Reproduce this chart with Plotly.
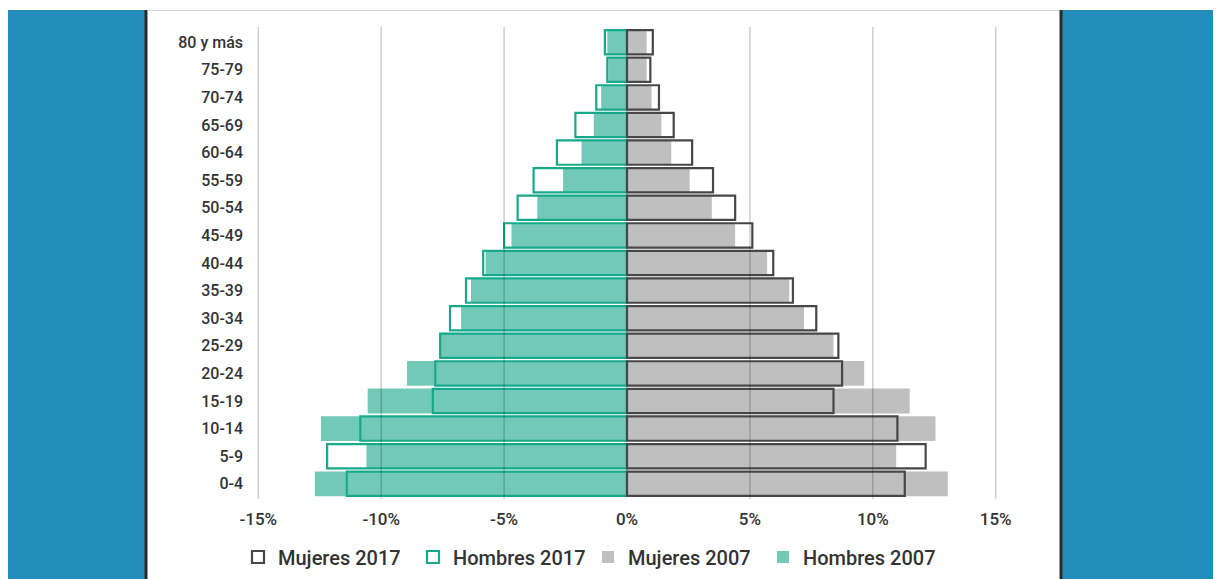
import plotly.graph_objects as go

# ---------------- data ----------------
age_groups = ["0-4", "5-9", "10-14", "15-19", "20-24", "25-29", "30-34", "35-39",
              "40-44", "45-49", "50-54", "55-59", "60-64", "65-69", "70-74", "75-79",
              "80 y más"]
hombres_2017 = [11.4, 12.2, 10.85, 7.9, 7.8, 7.6, 7.2, 6.55, 5.85, 5.0, 4.45, 3.8, 2.85, 2.1, 1.25, 0.8, 0.9]
hombres_2007 = [12.7, 10.6, 12.45, 10.55, 8.95, 7.65, 6.75, 6.35, 5.75, 4.7, 3.65, 2.6, 1.85, 1.35, 1.05, 0.75, 0.8]
mujeres_2017 = [11.3, 12.15, 11.0, 8.4, 8.75, 8.6, 7.7, 6.75, 5.95, 5.1, 4.4, 3.5, 2.65, 1.9, 1.3, 0.95, 1.05]
mujeres_2007 = [13.05, 10.95, 12.55, 11.5, 9.65, 8.4, 7.2, 6.6, 5.7, 4.4, 3.45, 2.55, 1.8, 1.4, 1.0, 0.8, 0.8]
tick_values = [-15, -10, -5, 0, 5, 10, 15]
tick_labels = ["-15%", "-10%", "-5%", "0%", "5%", "10%", "15%"]

# ---------------- layout geometry (page pixels; page body adds 8px offset) ----------------
OFF = 8
W, H = 1221 - OFF, 579 - OFF
PLOT_L, PLOT_R, PLOT_T, PLOT_B = 246, 1008, 27, 499   # page pixel coords
ML, MR = PLOT_L - OFF, W - (PLOT_R - OFF)
MT, MB = PLOT_T - OFF, H - (PLOT_B - OFF)
PW, PH = W - ML - MR, H - MT - MB

def px_x(p):
    return (p - OFF - ML) / PW

def px_y(p):
    return 1 - (p - OFF - MT) / PH

TEAL_FILL = "#73c9b7"
TEAL_LINE = "#17a98c"
GRAY_FILL = "#bfbfbf"
DARK_LINE = "#474747"
BLUE = "#228dbb"
FONT = "Roboto"
TXT = "#333333"

neg = lambda v: [-x for x in v]

fig = go.Figure()
fig.add_trace(go.Bar(y=age_groups, x=neg(hombres_2007), orientation="h", name="Hombres 2007",
                     marker=dict(color=TEAL_FILL, line=dict(width=0)), width=0.9, legendrank=4))
fig.add_trace(go.Bar(y=age_groups, x=mujeres_2007, orientation="h", name="Mujeres 2007",
                     marker=dict(color=GRAY_FILL, line=dict(width=0)), width=0.9, legendrank=3))
fig.add_trace(go.Bar(y=age_groups, x=neg(hombres_2017), orientation="h", name="Hombres 2017",
                     marker=dict(color="rgba(255,255,255,0)", line=dict(color=TEAL_LINE, width=2.2)),
                     width=0.88, legendrank=2))
fig.add_trace(go.Bar(y=age_groups, x=mujeres_2017, orientation="h", name="Mujeres 2017",
                     marker=dict(color="rgba(255,255,255,0)", line=dict(color=DARK_LINE, width=2.2)),
                     width=0.88, legendrank=1))

shapes = []
shapes.append(dict(type="rect", xref="paper", yref="paper", layer="below",
                   x0=px_x(8), x1=px_x(145), y0=px_y(10), y1=px_y(590),
                   fillcolor=BLUE, line=dict(width=0)))
shapes.append(dict(type="rect", xref="paper", yref="paper", layer="below",
                   x0=px_x(1062), x1=px_x(1240), y0=px_y(10), y1=px_y(590),
                   fillcolor=BLUE, line=dict(width=0)))
shapes.append(dict(type="line", xref="paper", yref="paper", x0=px_x(146), x1=px_x(146),
                   y0=px_y(10), y1=px_y(590), line=dict(color="#2b2b2b", width=3)))
shapes.append(dict(type="line", xref="paper", yref="paper", x0=px_x(1061), x1=px_x(1061),
                   y0=px_y(10), y1=px_y(590), line=dict(color="#2b2b2b", width=3)))
shapes.append(dict(type="line", xref="paper", yref="paper", x0=px_x(147), x1=px_x(1059),
                   y0=px_y(10.5), y1=px_y(10.5), line=dict(color="#d4d4d4", width=1)))
for tv in tick_values:
    if tv == 0:
        continue
    shapes.append(dict(type="line", xref="x", yref="paper", x0=tv, x1=tv, y0=0, y1=1,
                       layer="above", line=dict(color="rgba(0,40,30,0.22)", width=1.5)))

fig.update_layout(
    width=W, height=H,
    margin=dict(l=ML, r=MR, t=MT, b=MB, autoexpand=False),
    paper_bgcolor="white", plot_bgcolor="white",
    barmode="overlay", bargap=0.1,
    shapes=shapes,
    showlegend=True,
    legend=dict(orientation="h", x=px_x(238), xanchor="left", y=px_y(557), yanchor="middle",
                font=dict(family=FONT, size=20, color=TXT, weight=500), traceorder="normal",
                itemwidth=30, entrywidth=130, bgcolor="rgba(0,0,0,0)"),
    xaxis=dict(range=[-15.5, 15.5], tickvals=tick_values, ticktext=tick_labels,
               showgrid=False, zeroline=False, showline=False, ticks="",
               tickfont=dict(family=FONT, size=17, color=TXT, weight=500),
               ticklabelstandoff=8, fixedrange=True, automargin=False),
    yaxis=dict(categoryorder="array", categoryarray=age_groups, showgrid=False,
               zeroline=False, showline=False, ticks="",
               tickfont=dict(family=FONT, size=16, color=TXT, weight=500),
               ticklabelstandoff=2, range=[-0.55, len(age_groups) - 0.45], fixedrange=True,
               automargin=False),
    font=dict(family=FONT),
)

fig.write_html("out.html")
